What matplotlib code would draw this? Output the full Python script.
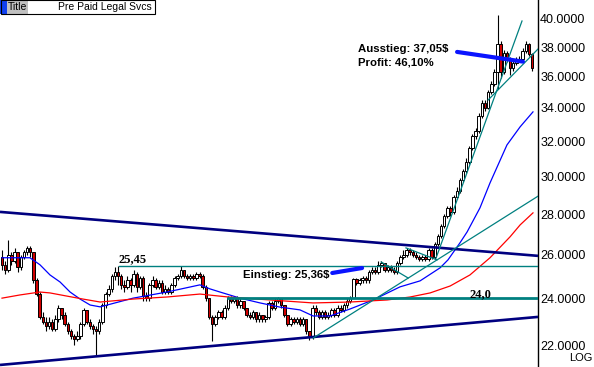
import matplotlib
matplotlib.use('Agg')
import matplotlib.pyplot as plt
from matplotlib.ticker import FixedLocator, NullLocator, FuncFormatter
from matplotlib.patches import Rectangle
import numpy as np

# ---------------- data ----------------
first_open = 25.9
closes = [
    25.5, 25.3, 26.0, 25.7, 26.1, 25.4, 25.9, 26.1, 26.3, 26.1,
    24.8, 24.2, 23.2, 23.0, 22.8, 23.0, 22.7, 23.1, 23.6, 23.3,
    22.9, 22.6, 22.4, 22.3, 22.4, 22.9, 23.5, 23.0, 22.8, 22.7,
    22.6, 23.0, 23.7, 24.2, 24.4, 25.0, 25.2, 25.0, 24.6, 24.5,
    24.8, 24.6, 25.1, 24.5, 24.9, 24.1, 24.0, 24.6, 24.8, 24.5,
    24.7, 24.3, 24.4, 24.3, 24.6, 24.9, 25.0, 25.3, 25.0, 24.9,
    25.0, 24.9, 25.1, 25.0, 24.5, 24.0, 23.2, 22.9, 23.2, 23.4,
    23.2, 23.6, 24.0, 23.9, 24.0, 23.7, 23.9, 23.6, 23.3, 23.2,
    23.4, 23.1, 23.3, 23.1, 23.2, 23.8, 23.6, 23.9, 24.0, 23.7,
    23.3, 22.9, 23.1, 23.0, 23.1, 22.9, 23.1, 22.6, 22.35, 23.6,
    23.4, 23.2, 23.4, 23.2, 23.3, 23.5, 23.3, 23.6, 23.5, 23.7,
    23.9, 24.0, 24.85, 24.7, 24.8, 24.9, 24.8, 25.2, 25.3, 25.2,
    25.5, 25.6, 25.3, 25.4, 25.3, 25.2, 25.6, 25.9, 26.0, 26.2,
    26.1, 26.0, 25.9, 25.8, 25.9, 25.8, 26.2, 25.9, 26.5, 26.9,
    27.4, 27.9, 28.3, 28.1, 28.9, 29.2, 29.8, 30.3, 30.8, 31.6,
    32.3, 32.6, 33.5, 34.3, 34.0, 35.0, 35.5, 36.3, 38.2, 36.3,
    37.6, 37.2, 36.6, 36.9, 37.1, 37.2, 37.7, 38.2, 37.5, 36.6,
]
highs = [
    26.2, 25.7, 26.7, 26.1, 26.3, 26.1, 26.0, 26.2, 26.4, 26.4,
    26.1, 24.9, 24.3, 23.4, 23.2, 23.2, 23.1, 23.3, 23.7, 23.6,
    23.4, 23.0, 22.7, 22.5, 22.6, 23.0, 23.6, 23.5, 23.1, 22.9,
    22.8, 23.1, 23.8, 24.3, 24.6, 25.1, 25.4, 25.45, 25.1, 24.8,
    25.0, 24.9, 25.3, 25.2, 25.0, 25.0, 24.3, 24.7, 25.0, 24.9,
    24.8, 24.8, 24.6, 24.5, 24.7, 25.0, 25.1, 25.45, 25.3, 25.1,
    25.1, 25.1, 25.2, 25.2, 25.1, 24.6, 24.0, 23.3, 23.3, 23.5,
    23.5, 23.7, 24.1, 24.1, 24.1, 24.1, 24.0, 23.9, 23.6, 23.4,
    23.5, 23.4, 23.4, 23.3, 23.3, 23.9, 23.9, 24.0, 24.05, 24.0,
    23.7, 23.3, 23.2, 23.2, 23.2, 23.2, 23.2, 23.1, 22.6, 23.7,
    23.7, 23.5, 23.5, 23.5, 23.4, 23.6, 23.6, 23.7, 23.7, 23.8,
    24.0, 24.1, 24.9, 24.9, 24.9, 25.0, 25.0, 25.3, 25.4, 25.4,
    25.7, 25.7, 25.6, 25.5, 25.5, 25.4, 25.7, 26.0, 26.2, 26.3,
    26.3, 26.2, 26.1, 26.0, 26.0, 26.0, 26.3, 26.3, 26.6, 27.0,
    27.5, 28.0, 28.4, 28.4, 29.0, 29.4, 29.9, 30.4, 31.0, 31.7,
    32.4, 32.8, 33.7, 34.5, 34.5, 35.1, 35.7, 36.5, 40.3, 38.4,
    37.8, 37.7, 37.3, 37.1, 37.3, 37.4, 37.9, 38.4, 38.3, 37.6,
]
lows = [
    25.3, 25.1, 25.2, 25.5, 25.6, 25.2, 25.3, 25.8, 26.0, 25.9,
    24.7, 24.1, 23.1, 22.9, 22.6, 22.7, 22.6, 22.6, 23.0, 23.1,
    22.8, 22.5, 22.3, 22.05, 22.2, 22.3, 22.8, 22.9, 22.7, 22.5,
    21.6, 22.5, 22.9, 23.6, 24.1, 24.3, 24.8, 24.6, 24.4, 24.3,
    24.4, 24.3, 24.5, 24.3, 24.4, 23.9, 23.9, 23.9, 24.5, 24.4,
    24.4, 24.2, 24.2, 24.2, 24.2, 24.5, 24.8, 24.9, 24.9, 24.8,
    24.8, 24.8, 24.8, 24.9, 24.4, 23.9, 23.1, 22.2, 22.8, 23.1,
    23.1, 23.1, 23.5, 23.8, 23.8, 23.6, 23.6, 23.5, 23.2, 23.1,
    23.1, 23.0, 23.0, 23.0, 23.0, 23.1, 23.5, 23.5, 23.8, 23.6,
    23.2, 22.8, 22.8, 22.9, 22.9, 22.8, 22.8, 22.5, 22.25, 22.3,
    23.3, 23.1, 23.1, 23.1, 23.1, 23.2, 23.2, 23.2, 23.4, 23.4,
    23.6, 23.8, 24.0, 24.6, 24.6, 24.7, 24.7, 24.7, 25.1, 25.1,
    25.1, 25.4, 25.2, 25.2, 25.2, 25.1, 25.1, 25.5, 25.8, 25.9,
    26.0, 25.9, 25.8, 25.7, 25.7, 25.7, 25.7, 25.8, 25.8, 26.4,
    26.8, 27.3, 27.8, 27.9, 28.0, 28.8, 29.1, 29.7, 30.2, 30.7,
    31.5, 32.1, 32.5, 33.4, 33.8, 33.9, 34.9, 35.4, 35.2, 35.9,
    36.2, 37.0, 36.1, 36.4, 36.8, 37.0, 37.1, 37.6, 37.4, 36.4,
]

# moving averages (bar index, price)
ma_fast_x = [0, 8.9, 12.1, 15.3, 18.5, 21.7, 24.9, 28.1, 31.3, 41.8, 52.6, 63.1, 66.3,
             69.5, 75.9, 82.3, 88.6, 95.0, 99.2, 104.6, 111.0, 118.3, 126.9, 133.3,
             139.7, 142.2, 146.0, 148.3, 152.4, 155.6, 161.0, 165.2, 169.3]
ma_fast_y = [25.85, 25.85, 25.52, 25.05, 24.73, 24.28, 23.97, 23.71, 23.63, 24.01, 24.28,
             24.60, 24.42, 24.28, 24.01, 23.80, 23.62, 23.50, 23.24, 23.24, 23.54, 23.93,
             24.51, 24.78, 25.38, 25.75, 26.56, 27.10, 28.32, 29.64, 31.77, 32.84, 33.75]
ma_slow_x = [0, 5.7, 12.1, 15.3, 20.7, 25.8, 31.3, 41.8, 52.6, 63.1, 72.1, 85.5, 99.2,
             111.0, 122.8, 130.1, 136.5, 142.9, 149.2, 155.6, 162.0, 165.2, 169.3]
ma_slow_y = [24.01, 24.15, 24.28, 24.24, 24.10, 23.97, 23.84, 23.97, 24.06, 24.19, 24.06,
             23.93, 23.80, 23.84, 23.93, 24.06, 24.24, 24.55, 25.05, 25.85, 26.86, 27.45, 28.06]

# trend lines: ((x0, y0), (x1, y1))
channel_top = ((-0.64, 28.11), (170.9, 25.94))
channel_bottom = ((-0.64, 21.25), (170.9, 23.20))
fan_lines = [((99.2, 22.32), (170.9, 28.93)),
             ((138.4, 25.84), (165.8, 39.85)),
             ((155.0, 34.49), (170.9, 37.86)),
             ((120.9, 25.65), (129.5, 24.91)),
             ((128.8, 26.32), (138.7, 25.75))]
resistance = (37.3, 25.45)   # start bar, level
support = (72.1, 24.0)
entry_arrow = ((105.3, 25.14), (114.8, 25.37))
exit_arrow = ((145.1, 37.66), (166.1, 37.0))

ytick_vals = [22, 24, 26, 28, 30, 32, 34, 36, 38, 40]

# ---------------- figure ----------------
W, H = 594, 367
fig = plt.figure(figsize=(W / 100, H / 100), dpi=100)
fig.patch.set_facecolor('white')
ax = fig.add_axes([0, 0, 538 / W, 1])
ax.set_yscale('log')
ax.set_xlim(-0.64, 170.9)
ax.set_ylim(21.17, 41.41)

for s in ['left', 'top', 'bottom']:
    ax.spines[s].set_visible(False)
ax.spines['right'].set_color('black')
ax.spines['right'].set_linewidth(1.0)
ax.set_xticks([])
ax.yaxis.tick_right()
ax.yaxis.set_major_locator(FixedLocator(ytick_vals))
ax.yaxis.set_minor_locator(NullLocator())
ax.yaxis.set_major_formatter(FuncFormatter(lambda v, p: f"{v:.4f}"))
ax.tick_params(axis='y', length=0, pad=1.5, labelsize=9)
for lab in ax.get_yticklabels():
    lab.set_fontfamily('Liberation Sans')

c = np.array(closes)
o = np.r_[first_open, c[:-1]]
hi = np.array(highs)
lo = np.array(lows)
idx = np.arange(len(c))
up = c >= o

ax.vlines(idx, lo, hi, color='black', lw=0.8, zorder=3)
bot = np.minimum(o, c)
top = np.maximum(o, c)
top = np.where(top - bot < 0.04, bot + 0.04, top)
ax.bar(idx, top - bot, bottom=bot, width=0.8,
       color=np.where(up, 'white', '#d00000'), edgecolor='black', linewidth=0.7, zorder=4)

# moving averages
ax.plot(ma_fast_x, ma_fast_y, color='#0000ff', lw=0.9, zorder=5)
ax.plot(ma_slow_x, ma_slow_y, color='#ff0000', lw=0.9, zorder=5)

# channel
for (p0, p1) in (channel_top, channel_bottom):
    ax.plot([p0[0], p1[0]], [p0[1], p1[1]], color='#000080', lw=1.9, zorder=6,
            solid_capstyle='butt')
for (p0, p1) in fan_lines:
    ax.plot([p0[0], p1[0]], [p0[1], p1[1]], color='#008080', lw=0.9, zorder=6)

ax.plot([resistance[0], 171], [resistance[1]] * 2, color='#008080', lw=1.0, zorder=6)
ax.plot([support[0], 171], [support[1]] * 2, color='#008080', lw=2.0, zorder=6)

for (p0, p1) in (entry_arrow, exit_arrow):
    ax.plot([p0[0], p1[0]], [p0[1], p1[1]], color='#0a14ff', lw=3.0, zorder=7,
            solid_capstyle='round')

bold_sans = dict(family='Liberation Sans', fontweight='bold', fontsize=8.2, color='black')
ax.text(76.9, 25.06, 'Einstieg: 25,36$', ha='left', va='center', zorder=8, **bold_sans)
ax.text(113.5, 37.85, 'Ausstieg: 37,05$', ha='left', va='center', zorder=8, **bold_sans)
ax.text(113.5, 36.92, 'Profit: 46,10%', ha='left', va='center', zorder=8, **bold_sans)
ax.text(37.0, 25.8, '25,45', ha='left', va='center', family='Liberation Serif',
        fontweight='bold', fontsize=9, zorder=8)
ax.text(149.2, 24.2, '24,0', ha='left', va='center', family='Liberation Serif',
        fontweight='bold', fontsize=9, zorder=8)

# title box (pixel coordinates)
def R(x0, y0, x1, y1, **kw):
    fig.add_artist(Rectangle((x0 / W, 1 - y1 / H), (x1 - x0) / W, (y1 - y0) / H,
                             transform=fig.transFigure, **kw))

R(0, 0, 155, 14, facecolor='white', edgecolor='none', zorder=10)
R(0, 0, 7, 14, facecolor='#1040f0', edgecolor='none', zorder=11)
R(7, 0, 28, 14, facecolor='#c0c0c0', edgecolor='none', zorder=11)
R(0.5, 0.5, 155, 14, facecolor='none', edgecolor='black', linewidth=0.8, zorder=12)
fig.text(8 / W, 1 - 7.5 / H, 'Title', ha='left', va='center', fontsize=7.5,
         family='Liberation Sans', zorder=13)
fig.text(152 / W, 1 - 7.5 / H, 'Pre Paid Legal Svcs', ha='right', va='center', fontsize=7.5,
         family='Liberation Sans', zorder=13)
fig.text(592 / W, 1 - 358 / H, 'LOG', ha='right', va='center', fontsize=8,
         family='Liberation Sans')

fig.savefig('out.png', dpi=100, facecolor='white')
